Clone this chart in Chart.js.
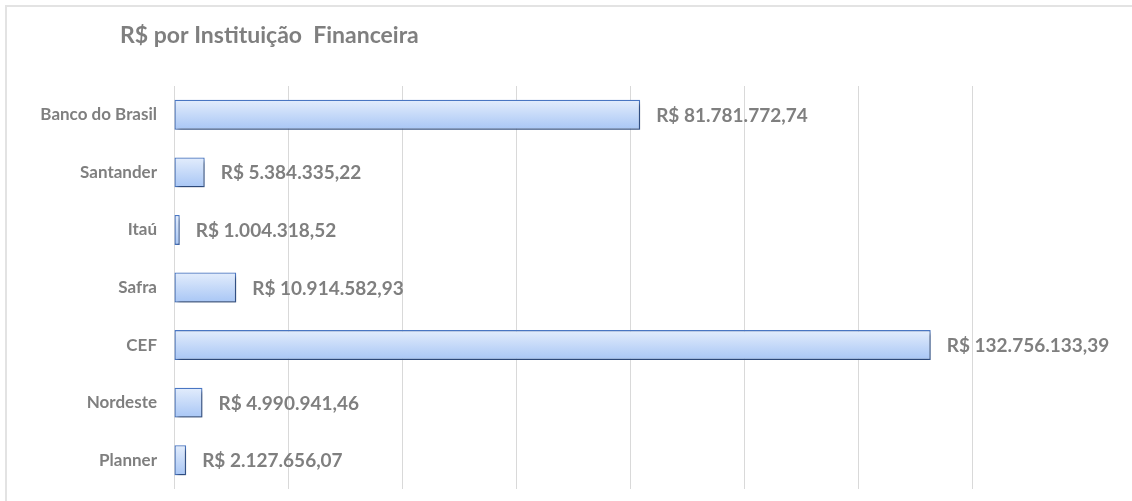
<!DOCTYPE html>
<html><head><meta charset="utf-8">
<script src="https://cdn.jsdelivr.net/npm/chart.js@4.4.0/dist/chart.umd.min.js"></script>
<style>
html,body{margin:0;padding:0;background:#fff;overflow:hidden;}
#wrap{position:relative;width:1132px;height:501px;}
#frame{position:absolute;left:5px;top:5px;width:1200px;height:600px;border:2px solid #e3e3e3;box-sizing:border-box;}
canvas{position:absolute;left:0;top:0;}
</style></head>
<body><div id="wrap"><div id="frame"></div><canvas id="c" width="1132" height="501"></canvas></div>
<script>
const titleText = 'R$ por Instituição  Financeira';
const categories = ['Banco do Brasil','Santander','Itaú','Safra','CEF','Nordeste','Planner'];
const values = [81781772.74, 5384335.22, 1004318.52, 10914582.93, 132756133.39, 4990941.46, 2127656.07];
const valueLabels = ['R$ 81.781.772,74','R$ 5.384.335,22','R$ 1.004.318,52','R$ 10.914.582,93','R$ 132.756.133,39','R$ 4.990.941,46','R$ 2.127.656,07'];
const xMax = 140000000, xStep = 20000000;

const FONT = 'Lato, "Liberation Sans", sans-serif';
const CAT_PCT = 0.52;

const gradFill = (ctx) => {
  const chart = ctx.chart;
  const ys = chart.scales && chart.scales.y;
  if (!chart.chartArea || !ys) return '#c5d9f8';
  const y = ys.getPixelForValue(ctx.dataIndex);
  const h = (ys.height / categories.length) * CAT_PCT;
  const g = chart.ctx.createLinearGradient(0, y - h/2, 0, y + h/2);
  g.addColorStop(0, '#e3edfc');
  g.addColorStop(1, '#a8c6f5');
  return g;
};

const shadowPlugin = {
  id: 'shadow',
  beforeDatasetDraw(chart){
    const c = chart.ctx; c.save();
    c.shadowColor = 'rgba(0,0,0,0.45)'; c.shadowBlur = 4; c.shadowOffsetX = 2; c.shadowOffsetY = 3;
  },
  afterDatasetDraw(chart){ chart.ctx.restore(); }
};

const labelPlugin = {
  id: 'labels',
  afterDatasetsDraw(chart){
    const c = chart.ctx; const meta = chart.getDatasetMeta(0);
    c.save();
    c.font = 'bold 19px ' + FONT; c.fillStyle = '#7f7f7f'; c.textBaseline = 'middle'; c.textAlign = 'left';
    meta.data.forEach((b,i)=>{ c.fillText(valueLabels[i], b.x + 16, b.y + 1); });
    c.font = 'bold 23px ' + FONT; c.fillText(titleText, 120, 36);
    c.restore();
  }
};

new Chart(document.getElementById('c'), {
  type: 'bar',
  data: { labels: categories, datasets: [{ data: values, backgroundColor: gradFill, borderColor: '#4a78c6', borderWidth: 1.3, borderSkipped: false, categoryPercentage: CAT_PCT, barPercentage: 1 }] },
  plugins: [shadowPlugin, labelPlugin],
  options: {
    indexAxis: 'y', responsive: false, animation: false,
    layout: { padding: { top: 86, right: 160, bottom: 12, left: 0 } },
    plugins: { legend: { display: false }, tooltip: { enabled: false }, title: { display: false } },
    scales: {
      x: { min: 0, max: xMax, ticks: { display: false, stepSize: xStep }, grid: { color: '#d9d9d9', drawTicks: false }, border: { display: false },
           afterFit(s){ s.height = 0; } },
      y: { grid: { display: false }, border: { display: false },
           ticks: { color: '#7f7f7f', font: { family: FONT, weight: 'bold', size: 17 }, padding: 9 },
           afterFit(s){ s.width = 174; s.paddingTop = 0; s.paddingBottom = 0; } }
    }
  }
});
</script></body></html>
